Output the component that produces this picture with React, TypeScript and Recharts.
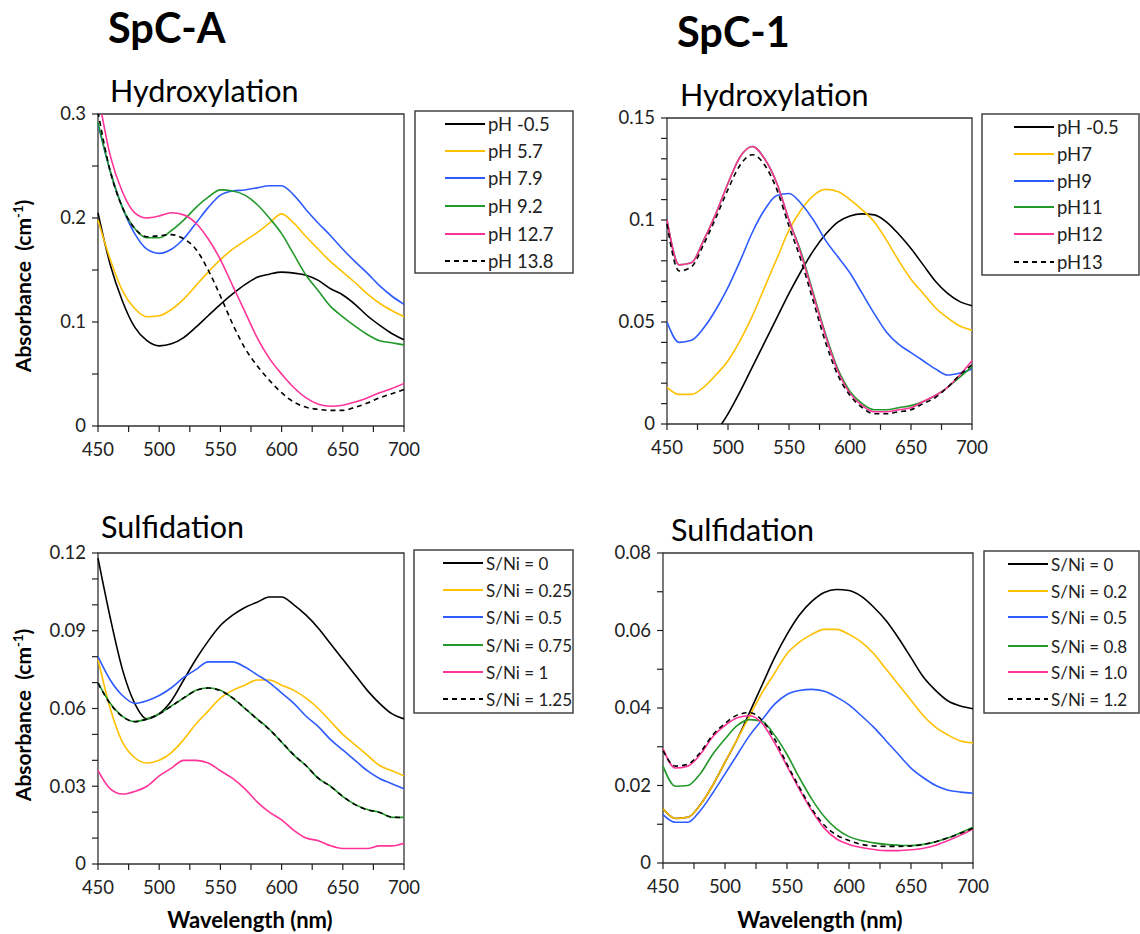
import { LineChart, Line, XAxis, YAxis, ReferenceArea } from 'recharts';

// wavelength grid (nm)
const wavelengths = [450, 460, 470, 480, 490, 500, 510, 520, 530, 540, 550, 560, 570, 580, 590, 600, 610, 620, 630, 640, 650, 660, 670, 680, 690, 700];
const xTicks = [450, 475, 500, 525, 550, 575, 600, 625, 650, 675, 700];

// SpC-A hydroxylation
const hydroA_m05 = [0.205, 0.155, 0.12, 0.095, 0.082, 0.077, 0.079, 0.085, 0.095, 0.106, 0.117, 0.127, 0.136, 0.143, 0.146, 0.148, 0.147, 0.145, 0.14, 0.132, 0.126, 0.117, 0.106, 0.097, 0.089, 0.083];
const hydroA_57 = [0.198, 0.16, 0.13, 0.113, 0.105, 0.106, 0.112, 0.122, 0.135, 0.148, 0.16, 0.17, 0.178, 0.186, 0.195, 0.204, 0.195, 0.182, 0.17, 0.158, 0.148, 0.138, 0.127, 0.118, 0.111, 0.105];
const hydroA_79 = [0.29, 0.245, 0.21, 0.185, 0.17, 0.166, 0.17, 0.18, 0.195, 0.21, 0.222, 0.226, 0.227, 0.229, 0.231, 0.231, 0.222, 0.208, 0.195, 0.183, 0.17, 0.158, 0.147, 0.135, 0.125, 0.117];
const hydroA_92 = [0.292, 0.245, 0.21, 0.19, 0.181, 0.181, 0.188, 0.198, 0.21, 0.22, 0.227, 0.226, 0.222, 0.213, 0.2, 0.185, 0.165, 0.145, 0.13, 0.115, 0.105, 0.096, 0.088, 0.082, 0.08, 0.078];
const hydroA_127 = [0.32, 0.26, 0.225, 0.205, 0.2, 0.202, 0.205, 0.203, 0.195, 0.18, 0.16, 0.135, 0.11, 0.085, 0.065, 0.05, 0.037, 0.027, 0.021, 0.019, 0.02, 0.023, 0.027, 0.032, 0.036, 0.041];
const hydroA_138 = [0.302, 0.245, 0.21, 0.19, 0.182, 0.183, 0.184, 0.18, 0.17, 0.15, 0.125, 0.098, 0.075, 0.058, 0.044, 0.032, 0.023, 0.018, 0.016, 0.015, 0.015, 0.018, 0.022, 0.027, 0.031, 0.035];

// SpC-1 hydroxylation
const hydro1_m05 = [-0.03, -0.025, -0.018, -0.011, -0.004, 0.005, 0.016, 0.028, 0.04, 0.052, 0.064, 0.075, 0.085, 0.093, 0.099, 0.102, 0.103, 0.1025, 0.099, 0.093, 0.086, 0.078, 0.07, 0.064, 0.06, 0.058];
const hydro1_7 = [0.018, 0.0145, 0.0145, 0.018, 0.024, 0.031, 0.041, 0.053, 0.067, 0.081, 0.095, 0.105, 0.112, 0.115, 0.114, 0.11, 0.105, 0.099, 0.09, 0.08, 0.071, 0.064, 0.057, 0.052, 0.048, 0.046];
const hydro1_9 = [0.05, 0.04, 0.041, 0.047, 0.056, 0.067, 0.08, 0.094, 0.105, 0.112, 0.113, 0.108, 0.1, 0.09, 0.082, 0.074, 0.064, 0.054, 0.045, 0.039, 0.035, 0.031, 0.027, 0.024, 0.025, 0.027];
const hydro1_11 = [0.1, 0.078, 0.079, 0.09, 0.103, 0.118, 0.131, 0.136, 0.13, 0.118, 0.1, 0.084, 0.064, 0.044, 0.027, 0.016, 0.01, 0.007, 0.007, 0.008, 0.009, 0.011, 0.014, 0.018, 0.023, 0.028];
const hydro1_12 = [0.1, 0.078, 0.079, 0.09, 0.103, 0.118, 0.131, 0.136, 0.13, 0.118, 0.1, 0.083, 0.063, 0.043, 0.026, 0.015, 0.009, 0.006, 0.006, 0.007, 0.008, 0.011, 0.014, 0.018, 0.024, 0.031];
const hydro1_13 = [0.098, 0.075, 0.077, 0.088, 0.101, 0.115, 0.127, 0.132, 0.127, 0.115, 0.097, 0.08, 0.06, 0.04, 0.024, 0.014, 0.008, 0.005, 0.005, 0.006, 0.007, 0.01, 0.013, 0.018, 0.024, 0.029];

// SpC-A sulfidation
const sulfA_0 = [0.118, 0.095, 0.075, 0.062, 0.056, 0.058, 0.063, 0.071, 0.079, 0.086, 0.092, 0.096, 0.099, 0.101, 0.103, 0.103, 0.1, 0.096, 0.091, 0.085, 0.079, 0.073, 0.067, 0.062, 0.058, 0.056];
const sulfA_025 = [0.079, 0.06, 0.047, 0.041, 0.039, 0.04, 0.043, 0.048, 0.054, 0.059, 0.064, 0.067, 0.069, 0.071, 0.071, 0.069, 0.067, 0.064, 0.06, 0.055, 0.05, 0.046, 0.042, 0.038, 0.036, 0.034];
const sulfA_05 = [0.08, 0.071, 0.065, 0.062, 0.063, 0.065, 0.068, 0.072, 0.075, 0.078, 0.078, 0.078, 0.076, 0.073, 0.07, 0.066, 0.062, 0.057, 0.053, 0.048, 0.044, 0.04, 0.036, 0.033, 0.031, 0.029];
const sulfA_075 = [0.07, 0.062, 0.057, 0.055, 0.056, 0.058, 0.061, 0.064, 0.067, 0.068, 0.067, 0.064, 0.06, 0.056, 0.052, 0.047, 0.042, 0.038, 0.033, 0.03, 0.026, 0.023, 0.021, 0.02, 0.018, 0.018];
const sulfA_1 = [0.036, 0.029, 0.027, 0.028, 0.03, 0.034, 0.037, 0.04, 0.04, 0.039, 0.036, 0.033, 0.029, 0.024, 0.02, 0.017, 0.013, 0.01, 0.009, 0.007, 0.006, 0.006, 0.006, 0.007, 0.007, 0.008];
const sulfA_125 = [0.0698, 0.0618, 0.0569, 0.0549, 0.0559, 0.0579, 0.0609, 0.0641, 0.0669, 0.0679, 0.0669, 0.0641, 0.0601, 0.0559, 0.0519, 0.0471, 0.0421, 0.0379, 0.0331, 0.0299, 0.0261, 0.0229, 0.0209, 0.0199, 0.0181, 0.0179];

// SpC-1 sulfidation
const sulf1_0 = [0.014, 0.0115, 0.0118, 0.015, 0.02, 0.026, 0.032, 0.039, 0.046, 0.053, 0.059, 0.064, 0.0675, 0.0698, 0.0706, 0.0703, 0.0688, 0.066, 0.0625, 0.058, 0.053, 0.048, 0.0445, 0.0418, 0.0405, 0.0398];
const sulf1_02 = [0.014, 0.0115, 0.0118, 0.015, 0.02, 0.026, 0.032, 0.038, 0.044, 0.049, 0.054, 0.057, 0.059, 0.0603, 0.0603, 0.059, 0.057, 0.054, 0.05, 0.046, 0.042, 0.038, 0.035, 0.033, 0.0315, 0.031];
const sulf1_05 = [0.0125, 0.0105, 0.0105, 0.0135, 0.018, 0.023, 0.028, 0.033, 0.037, 0.041, 0.0435, 0.0445, 0.0448, 0.0443, 0.0428, 0.0408, 0.038, 0.035, 0.0315, 0.028, 0.0245, 0.022, 0.02, 0.0188, 0.0183, 0.018];
const sulf1_08 = [0.025, 0.0198, 0.02, 0.023, 0.028, 0.032, 0.0355, 0.037, 0.0365, 0.033, 0.028, 0.022, 0.0165, 0.012, 0.0088, 0.0068, 0.0058, 0.0052, 0.0048, 0.0046, 0.0045, 0.0048, 0.0055, 0.0065, 0.0078, 0.0092];
const sulf1_10 = [0.0295, 0.0245, 0.025, 0.028, 0.0325, 0.0355, 0.0375, 0.038, 0.036, 0.031, 0.025, 0.019, 0.0135, 0.009, 0.0062, 0.0048, 0.004, 0.0035, 0.0032, 0.0032, 0.0034, 0.0038, 0.0046, 0.0058, 0.0072, 0.0088];
const sulf1_12 = [0.029, 0.025, 0.0255, 0.0285, 0.033, 0.036, 0.0382, 0.0388, 0.0368, 0.032, 0.0255, 0.0195, 0.014, 0.0098, 0.0072, 0.0058, 0.0048, 0.0044, 0.0043, 0.0043, 0.0044, 0.0048, 0.0055, 0.0065, 0.0077, 0.009];

const hydroA_labels = ['pH -0.5', 'pH 5.7', 'pH 7.9', 'pH 9.2', 'pH 12.7', 'pH 13.8'];
const hydro1_labels = ['pH -0.5', 'pH7', 'pH9', 'pH11', 'pH12', 'pH13'];
const sulfA_labels = ['S/Ni = 0', 'S/Ni = 0.25', 'S/Ni = 0.5', 'S/Ni = 0.75', 'S/Ni = 1', 'S/Ni = 1.25'];
const sulf1_labels = ['S/Ni = 0', 'S/Ni = 0.2', 'S/Ni = 0.5', 'S/Ni = 0.8', 'S/Ni = 1.0', 'S/Ni = 1.2'];

const COLORS = ['#000000', '#FFC000', '#2E5BFF', '#22992A', '#FF3399', '#000000'];
const FONT = 'Lato, "Open Sans", sans-serif';

function buildRows(series: number[][]) {
  return wavelengths.map((w, i) => {
    const row: { [k: string]: number } = { w };
    series.forEach((s, j) => { row['s' + j] = s[i]; });
    return row;
  });
}

interface PanelProps {
  px0: number; px1: number; py0: number; py1: number;
  series: number[][];
  yMax: number;
  yTicks: number[];
  yMajor: number[];
}

const TOP = 20;

function Panel({ px0, px1, py0, py1, series, yMax, yTicks, yMajor }: PanelProps) {
  const width = px1 - px0 + 60 + 30;
  const height = py1 - py0 + TOP + 40;
  const axisX = 60;
  const axisY = height - 40;
  const rows = buildRows(series);

  const renderYTick = (p: any) => {
    const v = p.payload.value;
    const major = yMajor.some((m) => Math.abs(m - v) < 1e-9);
    return (
      <g>
        <line x1={axisX - 6} x2={axisX} y1={p.y} y2={p.y} stroke="#222" strokeWidth={1.2} />
        {major && (
          <text x={axisX - 12} y={p.y} dy="0.35em" textAnchor="end" fontSize={18.5} fill="#222" fontFamily={FONT}>
            {v}
          </text>
        )}
      </g>
    );
  };

  const renderXTick = (p: any) => {
    const v = p.payload.value;
    return (
      <g>
        <line x1={p.x} x2={p.x} y1={axisY} y2={axisY + 6} stroke="#222" strokeWidth={1.2} />
        {v % 50 === 0 && (
          <text x={p.x} y={axisY + 30} textAnchor="middle" fontSize={18.5} fill="#222" fontFamily={FONT}>
            {v}
          </text>
        )}
      </g>
    );
  };

  return (
    <div style={{ position: 'absolute', left: px0 - 60, top: py0 - TOP }}>
      <LineChart width={width} height={height} data={rows} margin={{ top: TOP, right: 30, bottom: 10, left: 0 }}>
        <XAxis
          dataKey="w"
          type="number"
          domain={[450, 700]}
          ticks={xTicks}
          height={30}
          axisLine={false}
          tickLine={false}
          tickSize={0}
          tickMargin={0}
          interval={0}
          tick={renderXTick}
        />
        <YAxis
          type="number"
          domain={[0, yMax]}
          ticks={yTicks}
          width={60}
          allowDataOverflow
          axisLine={false}
          tickLine={false}
          tickSize={0}
          tickMargin={0}
          interval={0}
          tick={renderYTick}
        />
        {series.map((_, j) => (
          <Line
            key={j}
            type="monotone"
            dataKey={'s' + j}
            stroke={COLORS[j]}
            strokeWidth={1.6}
            strokeDasharray={j === 5 ? '5 4' : undefined}
            dot={false}
            isAnimationActive={false}
          />
        ))}
        <ReferenceArea x1={450} x2={700} y1={0} y2={yMax} fill="none" stroke="#333" strokeWidth={1.3} />
      </LineChart>
    </div>
  );
}

function LegendBox({ x0, x1, y0, y1, lineX0, labels, rowY, fontSize }: { x0: number; x1: number; y0: number; y1: number; lineX0: number; labels: string[]; rowY: number[]; fontSize: number }) {
  return (
    <g>
      <rect x={x0} y={y0} width={x1 - x0} height={y1 - y0} fill="#fff" stroke="#444" strokeWidth={1.5} />
      {labels.map((l, i) => (
        <g key={l}>
          <line x1={lineX0} x2={lineX0 + 40} y1={rowY[i]} y2={rowY[i]} stroke={COLORS[i]} strokeWidth={2} strokeDasharray={i === 5 ? '5 4' : undefined} />
          <text x={lineX0 + 43} y={rowY[i] + 6.5} fontSize={fontSize} fill="#222" fontFamily={FONT}>{l}</text>
        </g>
      ))}
    </g>
  );
}

export default function App() {
  return (
    <div style={{ position: 'absolute', left: 0, top: 0, width: 1140, height: 934, background: '#fff', overflow: 'hidden' }}>
      <Panel px0={98} px1={404} py0={114} py1={426} series={[hydroA_m05, hydroA_57, hydroA_79, hydroA_92, hydroA_127, hydroA_138]}
        yMax={0.3} yTicks={[0, 0.05, 0.1, 0.15, 0.2, 0.25, 0.3]} yMajor={[0, 0.1, 0.2, 0.3]} />
      <Panel px0={667} px1={972} py0={118} py1={424} series={[hydro1_m05, hydro1_7, hydro1_9, hydro1_11, hydro1_12, hydro1_13]}
        yMax={0.15} yTicks={[0, 0.01, 0.02, 0.03, 0.04, 0.05, 0.06, 0.07, 0.08, 0.09, 0.1, 0.11, 0.12, 0.13, 0.14, 0.15]} yMajor={[0, 0.05, 0.1, 0.15]} />
      <Panel px0={98} px1={404} py0={553} py1={864} series={[sulfA_0, sulfA_025, sulfA_05, sulfA_075, sulfA_1, sulfA_125]}
        yMax={0.12} yTicks={[0, 0.01, 0.02, 0.03, 0.04, 0.05, 0.06, 0.07, 0.08, 0.09, 0.1, 0.11, 0.12]} yMajor={[0, 0.03, 0.06, 0.09, 0.12]} />
      <Panel px0={663} px1={973} py0={553} py1={863} series={[sulf1_0, sulf1_02, sulf1_05, sulf1_08, sulf1_10, sulf1_12]}
        yMax={0.08} yTicks={[0, 0.01, 0.02, 0.03, 0.04, 0.05, 0.06, 0.07, 0.08]} yMajor={[0, 0.02, 0.04, 0.06, 0.08]} />

      <svg width={1140} height={934} style={{ position: 'absolute', left: 0, top: 0, pointerEvents: 'none' }} fontFamily={FONT}>
        <text x={108} y={43} fontSize={41.5} fontWeight={700} fill="#000">SpC-A</text>
        <text x={677} y={47} fontSize={41.5} fontWeight={700} fill="#000">SpC-1</text>
        <text x={110} y={102} fontSize={30.5} fill="#000">Hydroxylation</text>
        <text x={680} y={106} fontSize={30.5} fill="#000">Hydroxylation</text>
        <text x={101} y={538} fontSize={30.5} fill="#000">Sulfidation</text>
        <text x={671} y={541} fontSize={30.5} fill="#000">Sulfidation</text>

        <text transform="translate(31 286) rotate(-90)" textAnchor="middle" fontSize={21} fontWeight={700} fill="#000" style={{ whiteSpace: 'pre' }}>
          Absorbance  (cm<tspan dy={-8} fontSize={13}>-1</tspan><tspan dy={8}>)</tspan>
        </text>
        <text transform="translate(31 715) rotate(-90)" textAnchor="middle" fontSize={21} fontWeight={700} fill="#000" style={{ whiteSpace: 'pre' }}>
          Absorbance  (cm<tspan dy={-8} fontSize={13}>-1</tspan><tspan dy={8}>)</tspan>
        </text>
        <text x={250} y={928} textAnchor="middle" fontSize={22} fontWeight={700} fill="#000">Wavelength (nm)</text>
        <text x={820} y={928} textAnchor="middle" fontSize={22} fontWeight={700} fill="#000">Wavelength (nm)</text>

        <LegendBox x0={415} x1={573} y0={111} y1={273} lineX0={445} labels={hydroA_labels} rowY={[124, 151, 178, 206, 234, 261]} fontSize={18.5} />
        <LegendBox x0={982} x1={1139} y0={114} y1={275} lineX0={1014} labels={hydro1_labels} rowY={[127, 154, 181, 207, 234, 262]} fontSize={18.5} />
        <LegendBox x0={414} x1={573} y0={550} y1={713} lineX0={443} labels={sulfA_labels} rowY={[563, 590, 617, 645, 672, 699]} fontSize={17} />
        <LegendBox x0={984} x1={1139} y0={551} y1={713} lineX0={1008} labels={sulf1_labels} rowY={[564, 591, 617, 646, 672, 699]} fontSize={17} />
      </svg>
    </div>
  );
}
